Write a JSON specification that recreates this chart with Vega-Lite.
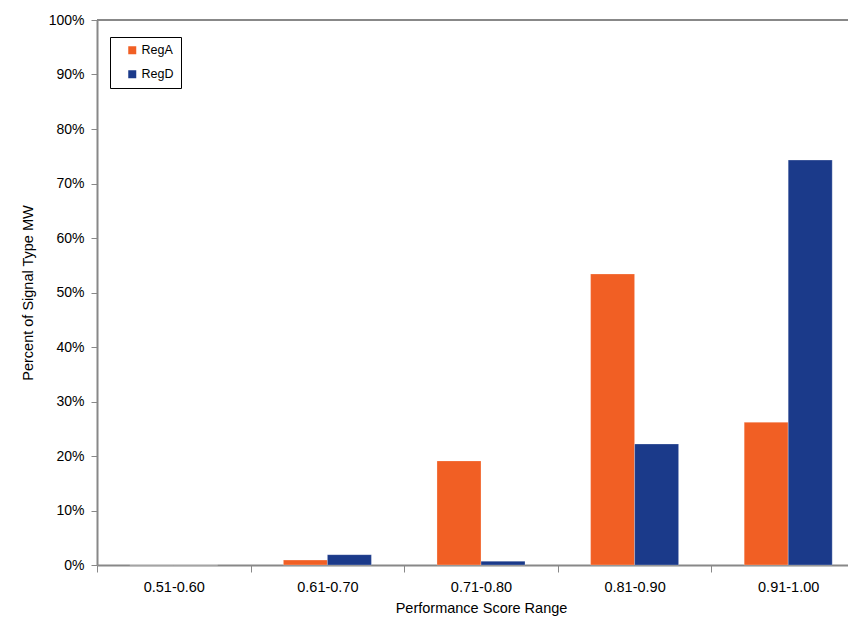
{
  "$schema": "https://vega.github.io/schema/vega-lite/v6.json",
  "autosize": {"type": "none"},
  "padding": {"left": 97, "top": 20, "right": 0, "bottom": 54},
  "width": 751,
  "height": 545,
  "background": "white",
  "config": {
    "font": "Liberation Sans",
    "view": {"stroke": null},
    "axis": {"domainColor": "#888888", "domainWidth": 2, "tickColor": "#888888", "tickWidth": 1, "labelColor": "#000000", "titleColor": "#000000", "labelFont": "Liberation Sans", "titleFont": "Liberation Sans", "titleFontWeight": "normal", "grid": false}
  },
  "data": {
    "values": [
      {"range": "0.51-0.60", "region": "RegA", "pct": 0.0},
      {"range": "0.51-0.60", "region": "RegD", "pct": 0.0},
      {"range": "0.61-0.70", "region": "RegA", "pct": 0.009},
      {"range": "0.61-0.70", "region": "RegD", "pct": 0.019},
      {"range": "0.71-0.80", "region": "RegA", "pct": 0.191},
      {"range": "0.71-0.80", "region": "RegD", "pct": 0.007},
      {"range": "0.81-0.90", "region": "RegA", "pct": 0.534},
      {"range": "0.81-0.90", "region": "RegD", "pct": 0.222},
      {"range": "0.91-1.00", "region": "RegA", "pct": 0.262},
      {"range": "0.91-1.00", "region": "RegD", "pct": 0.743}
    ]
  },
  "layer": [
    {
      "mark": {"type": "bar", "stroke": "#ffffff", "strokeWidth": 0.5, "strokeOpacity": 0.5},
      "encoding": {
        "x": {
          "field": "range", "type": "nominal", "sort": null,
          "scale": {"paddingInner": 0, "paddingOuter": 0, "range": [0, 768]},
          "axis": {"title": "Performance Score Range", "labelAngle": 0, "labelFontSize": 14.5, "titleFontSize": 14.5, "tickBand": "extent", "tickSize": 7, "labelPadding": 8, "titlePadding": 8, "titleX": 384}
        },
        "xOffset": {"field": "region", "type": "nominal", "sort": ["RegA", "RegD"], "scale": {"paddingInner": 0, "paddingOuter": 0.745}},
        "y": {
          "field": "pct", "type": "quantitative",
          "scale": {"domain": [0, 1], "nice": false},
          "axis": {"title": "Percent of Signal Type MW", "format": ".0%", "values": [0, 0.1, 0.2, 0.3, 0.4, 0.5, 0.6, 0.7, 0.8, 0.9, 1.0], "labelOverlap": false, "labelFontSize": 14, "titleFontSize": 14.5, "tickSize": 6, "labelPadding": 7, "titlePadding": 13}
        },
        "color": {
          "field": "region", "type": "nominal",
          "scale": {"domain": ["RegA", "RegD"], "range": ["#F15F24", "#1B3A8A"]},
          "legend": {"title": null, "orient": "none", "legendX": 13, "legendY": 17, "symbolType": "square", "symbolSize": 64, "symbolStrokeWidth": 0, "labelFontSize": 12.5, "labelFont": "Liberation Sans", "labelColor": "#000000", "strokeColor": "#000000", "fillColor": "#ffffff", "padding": 7, "rowPadding": 11, "symbolOffset": 9, "labelOffset": 3, "labelExpr": "datum.label + '    '"}
        }
      }
    },
    {
      "mark": {"type": "rule", "color": "#888888", "strokeWidth": 2},
      "encoding": {"y": {"datum": 1}}
    }
  ]
}
